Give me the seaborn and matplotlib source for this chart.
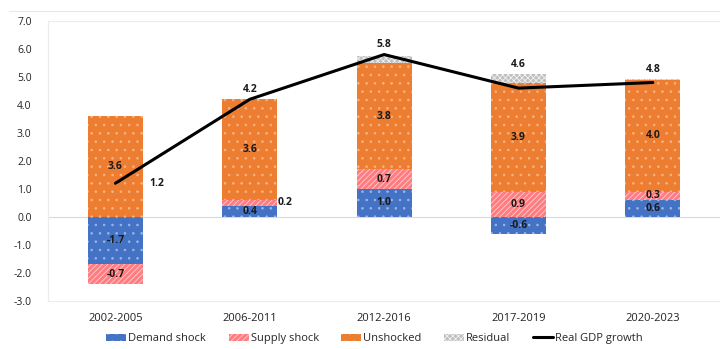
import numpy as np
import matplotlib.pyplot as plt
import seaborn as sns
from matplotlib.patches import Patch
from matplotlib.lines import Line2D

periods = ["2002-2005", "2006-2011", "2012-2016", "2017-2019", "2020-2023"]
demand = [-1.7, 0.4, 1.0, -0.6, 0.6]
supply = [-0.7, 0.2, 0.7, 0.9, 0.3]
unshocked = [3.6, 3.6, 3.8, 3.9, 4.0]
residual = [0.0, 0.0, 0.25, 0.3, 0.03]
gdp = [1.2, 4.2, 5.8, 4.6, 4.8]

# name, values, fill, hatch colour, hatch
series = [
    ("Demand shock", demand, "#4472C4", "#9db5e4", ".."),
    ("Supply shock", supply, "#FF7C80", "#ffd0d2", "//////"),
    ("Unshocked", unshocked, "#ED7D31", "#f6b485", ".."),
    ("Residual", residual, "#BFBFBF", "#f2f2f2", "xxxxxx"),
]

sns.set_theme(style="white")
plt.rcParams["font.family"] = ["Open Sans", "DejaVu Sans"]
plt.rcParams["hatch.linewidth"] = 0.6

fig = plt.figure(figsize=(7.2, 3.49), dpi=100)
ax = fig.add_axes([0.067, 0.138, 0.933, 0.802])

pos_bottom = np.zeros(len(periods))
neg_bottom = np.zeros(len(periods))
for name, vals, color, hcolor, hatch in series:
    vals = np.array(vals, dtype=float)
    bottoms = np.where(vals >= 0, pos_bottom, neg_bottom)
    n_before = len(ax.patches)
    sns.barplot(x=periods, y=vals, bottom=bottoms, color=color, width=0.41,
                saturation=1, ax=ax, edgecolor=hcolor, linewidth=0)
    for p in ax.patches[n_before:]:
        p.set_hatch(hatch)
    if name != "Residual":
        for i, v in enumerate(vals):
            mid = bottoms[i] + v / 2
            if name == "Supply shock" and periods[i] == "2006-2011":
                ax.text(i + 0.21, mid, f"{v:.1f}", ha="left", va="center",
                        fontsize=7.5, fontweight="bold", color="#1a1a1a")
            else:
                ax.text(i, mid, f"{v:.1f}", ha="center", va="center",
                        fontsize=7.5, fontweight="bold", color="#1a1a1a")
    pos_bottom = pos_bottom + np.where(vals >= 0, vals, 0)
    neg_bottom = neg_bottom + np.where(vals < 0, vals, 0)

sns.lineplot(x=np.arange(len(periods)), y=gdp, color="black", linewidth=2.2, ax=ax)

for i, g in enumerate(gdp):
    if i == 0:
        ax.text(i + 0.25, g, f"{g:.1f}", ha="left", va="center",
                fontsize=7.5, fontweight="bold", color="#1a1a1a")
    else:
        top = max(g, pos_bottom[i])
        ax.annotate(f"{g:.1f}", (i, top), xytext=(0, 3), textcoords="offset points",
                    ha="center", va="bottom", fontsize=7.5, fontweight="bold",
                    color="#1a1a1a")

ax.axhline(0, color="#d9d9d9", linewidth=0.8, zorder=0)
ax.set_ylim(-3, 7)
ax.set_xlim(-0.5, 4.5)
ax.set_yticks(np.arange(-3, 8, 1))
ax.set_yticklabels([f"{t:.1f}" for t in np.arange(-3, 8, 1)])
ax.tick_params(axis="y", labelsize=7.5, pad=12, length=0, colors="#222222")
ax.tick_params(axis="x", labelsize=8, pad=9, length=0, colors="#222222")
ax.set_xlabel("")
ax.set_ylabel("")
for s in ax.spines.values():
    s.set_color("#ececec")
    s.set_linewidth(0.8)
ax.spines["right"].set_visible(False)

fig.add_artist(Line2D([0.012, 1.0], [0.968, 0.968], transform=fig.transFigure,
                      color="#e8e8e8", linewidth=0.8))

handles = [Patch(facecolor=c, edgecolor=hc, linewidth=0, hatch=h, label=n)
           for n, _, c, hc, h in series]
handles.append(Line2D([0], [0], color="black", linewidth=2.2, label="Real GDP growth"))
fig.legend(handles=handles, loc="center", bbox_to_anchor=(0.52, 0.03), ncol=5,
           frameon=False, fontsize=8, handlelength=1.8, handleheight=0.6,
           handletextpad=0.2, columnspacing=2.0, borderpad=0.1)

fig.savefig("out.png", dpi=100)
